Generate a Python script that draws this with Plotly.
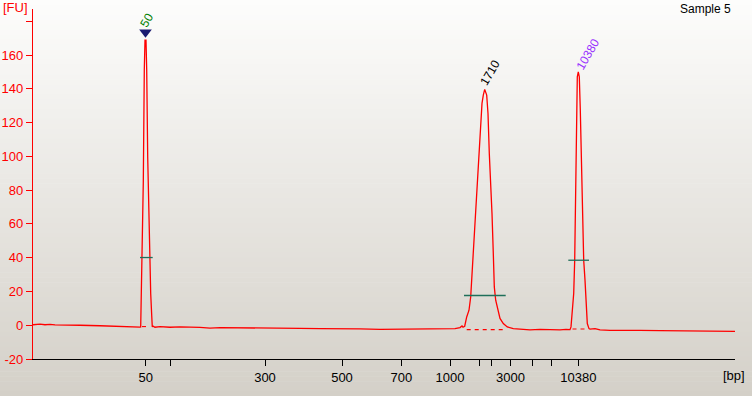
import plotly.graph_objects as go

# ---- data (x in migration units, y in FU) ----
trace_x = [33, 40, 45, 50, 55, 60, 80, 100, 110, 120, 130, 140,
           140.7, 141.3, 142.3, 143.3, 144.3, 145, 146, 146.7, 147.7, 149.3, 150.7, 151.7, 152.3,
           153, 155, 160, 170, 180, 200, 210, 220, 230, 250, 260, 280, 300, 320, 340, 360, 380, 400,
           420, 440, 455, 460, 462, 463,
           464.7, 466.7, 469, 470.7, 471.7, 472.7, 474, 475.3, 476.7, 478.3, 480.3, 482, 483.3, 484.7,
           486.7, 488, 489.3, 490.7, 492, 493.3, 494.3, 495.7, 497.7, 500, 503.3, 507.3, 513.3,
           520, 530, 540, 550, 560, 566, 570,
           571, 572.3, 573.7, 574.7, 575.7, 576.3, 577.3, 578.3, 579.3, 580.3, 581.3, 582.7, 583.7,
           585, 586, 587.3, 589,
           590, 595, 600, 610, 620, 640, 660, 680, 700, 720, 735]
trace_y = [0.3, 0.6, 0.3, 0.5, 0.2, 0.2, 0.0, -0.3, -0.6, -0.8, -1.0, -1.1,
           -1.0, 15.8, 43.5, 84.9, 151.5, 168.9, 168.9, 151.5, 99.7, 43.5, 18.8, 5.9, -1.0,
           -0.5, -1.2, -0.8, -1.2, -1.0, -1.3, -1.7, -1.4, -1.5, -1.8, -1.6, -2.0, -1.9, -2.0, -2.3, -2.2, -2.4, -2.3,
           -2.6, -2.1, -2.0, -1.4, -0.4, -1.2,
           -0.6, 4.9, 8.9, 16.8, 26.7, 42.5, 54.3, 66.2, 80.0, 95.0, 112.6, 131.4, 136.3, 139.7,
           136.3, 125.4, 101.7, 85.9, 66.2, 42.5, 22.7, 14.8, 8.9, 4.0, 1.0, -1.0, -2.0,
           -2.4, -2.7, -2.5, -2.6, -2.8, -2.4, -2.6,
           -1.0, 6.9, 18.8, 38.5, 87.9, 125.4, 147.1, 150.1, 147.1, 127.4, 97.8, 70.1, 38.5,
           26.7, 12.9, 1.0, -2.0,
           -2.3, -2.0, -2.7, -3.0, -2.9, -3.1, -3.2, -3.3, -3.4, -3.6, -3.6]

peak_label_x = [147, 490, 588]
peak_label_y = [180.7, 149.3, 160.6]
peak_labels = ["50", "1710", "10380"]
peak_label_colors = ["#008000", "#000000", "#9933ff"]

marker_x = [145.5]
marker_y = [173.6]

# horizontal width bars (x start, x end, level)
bar_x0 = [140, 464, 568.3]
bar_x1 = [152.7, 505.7, 589]
bar_y = [40.1, 17.6, 38.5]

# dashed baselines under peaks
base_x0 = [142, 466.7, 572.5]
base_x1 = [148, 505, 587]
base_y = [-0.8, -2.6, -2.2]

tick_pos = [145.7, 170.3, 265, 342, 401.3, 450, 479.3, 491, 510.5, 532.3, 551.3, 578.3]
tick_text = ["50", "", "300", "500", "700", "1000", "", "", "3000", "", "", "10380"]

y_ticks = [-20, 0, 20, 40, 60, 80, 100, 120, 140, 160, 180]
y_text = ["-20", "0", "20", "40", "60", "80", "100", "120", "140", "160", ""]

# ---- figure ----
W, H = 752, 396
ml, mr, mt, mb = 33, 17, 9, 37
pw, ph = W - ml - mr, H - mt - mb

fig = go.Figure()

# background gradient (paper coords, covering margins)
nb = 80
top_c = (253, 253, 252)
bot_c = (212, 208, 200)
shapes = []
for i in range(nb):
    f = (i + 0.5) / nb
    c = tuple(round(top_c[k] + (bot_c[k] - top_c[k]) * f) for k in range(3))
    py0 = i * H / nb
    py1 = (i + 1) * H / nb + 0.6
    shapes.append(dict(type="rect", xref="paper", yref="paper", layer="below",
                       x0=-ml / pw, x1=(W - ml) / pw,
                       y0=(H - mb - py1) / ph, y1=(H - mb - py0) / ph,
                       fillcolor="rgb(%d,%d,%d)" % c, line=dict(width=0)))
fig.update_layout(shapes=shapes)

fig.add_trace(go.Scatter(x=trace_x, y=trace_y, mode="lines",
                         line=dict(color="#ff0000", width=1.3), hoverinfo="skip"))

for x0, x1, yv in zip(base_x0, base_x1, base_y):
    fig.add_trace(go.Scatter(x=[x0, x1], y=[yv, yv], mode="lines",
                             line=dict(color="#ff0000", width=1.1, dash="4px,4px"),
                             hoverinfo="skip"))
for x0, x1, yv in zip(bar_x0, bar_x1, bar_y):
    fig.add_trace(go.Scatter(x=[x0, x1], y=[yv, yv], mode="lines",
                             line=dict(color="#1f6f5a", width=1.3), hoverinfo="skip"))

fig.add_trace(go.Scatter(x=marker_x, y=marker_y, mode="markers",
                         marker=dict(symbol="triangle-down", size=11, color="#1a1a70",
                                     line=dict(width=0)), hoverinfo="skip"))

for xv, yv, t, c in zip(peak_label_x, peak_label_y, peak_labels, peak_label_colors):
    fig.add_annotation(x=xv, y=yv, text=t, showarrow=False, textangle=-60,
                       xanchor="center", yanchor="middle",
                       font=dict(family="Liberation Sans", size=12, color=c))

fig.add_annotation(xref="paper", yref="paper", x=-ml / pw + 1 / pw, y=(H - mb - 8) / ph,
                   text="[FU]", showarrow=False, xanchor="left", yanchor="middle",
                   font=dict(family="Liberation Sans", size=13, color="#ff0000"))
fig.add_annotation(xref="paper", yref="paper", x=(747 - ml) / pw, y=(H - mb - 375) / ph,
                   text="[bp]", showarrow=False, xanchor="right", yanchor="middle",
                   font=dict(family="Liberation Sans", size=13, color="#000000"))
fig.add_annotation(xref="paper", yref="paper", x=(733 - ml) / pw, y=(H - mb - 9) / ph,
                   text="Sample 5", showarrow=False, xanchor="right", yanchor="middle",
                   font=dict(family="Liberation Sans", size=12, color="#000000"))

fig.update_layout(
    width=W, height=H,
    margin=dict(l=ml, r=mr, t=mt, b=mb, pad=0, autoexpand=False),
    paper_bgcolor="#ffffff", plot_bgcolor="rgba(0,0,0,0)",
    showlegend=False, hovermode=False,
    font=dict(family="Liberation Sans", size=13),
    xaxis=dict(range=[33, 735], showgrid=False, zeroline=False, automargin=False,
               showline=True, linecolor="#000000", linewidth=1.3,
               tickmode="array", tickvals=tick_pos, ticktext=tick_text,
               ticks="outside", ticklen=6, tickcolor="#000000", tickwidth=1.2,
               tickfont=dict(color="#000000", size=13, family="Liberation Sans")),
    yaxis=dict(range=[-20, 187.3], showgrid=False, zeroline=False, automargin=False,
               showline=True, linecolor="#ff0000", linewidth=1.3,
               tickmode="array", tickvals=y_ticks, ticktext=y_text,
               ticks="outside", ticklen=6, tickcolor="#ff0000", tickwidth=1.2,
               tickfont=dict(color="#ff0000", size=13, family="Liberation Sans")),
)

fig.write_html("out.html", config={"displayModeBar": False},
               post_script="document.body.style.margin='0';document.body.style.overflow='hidden';")
